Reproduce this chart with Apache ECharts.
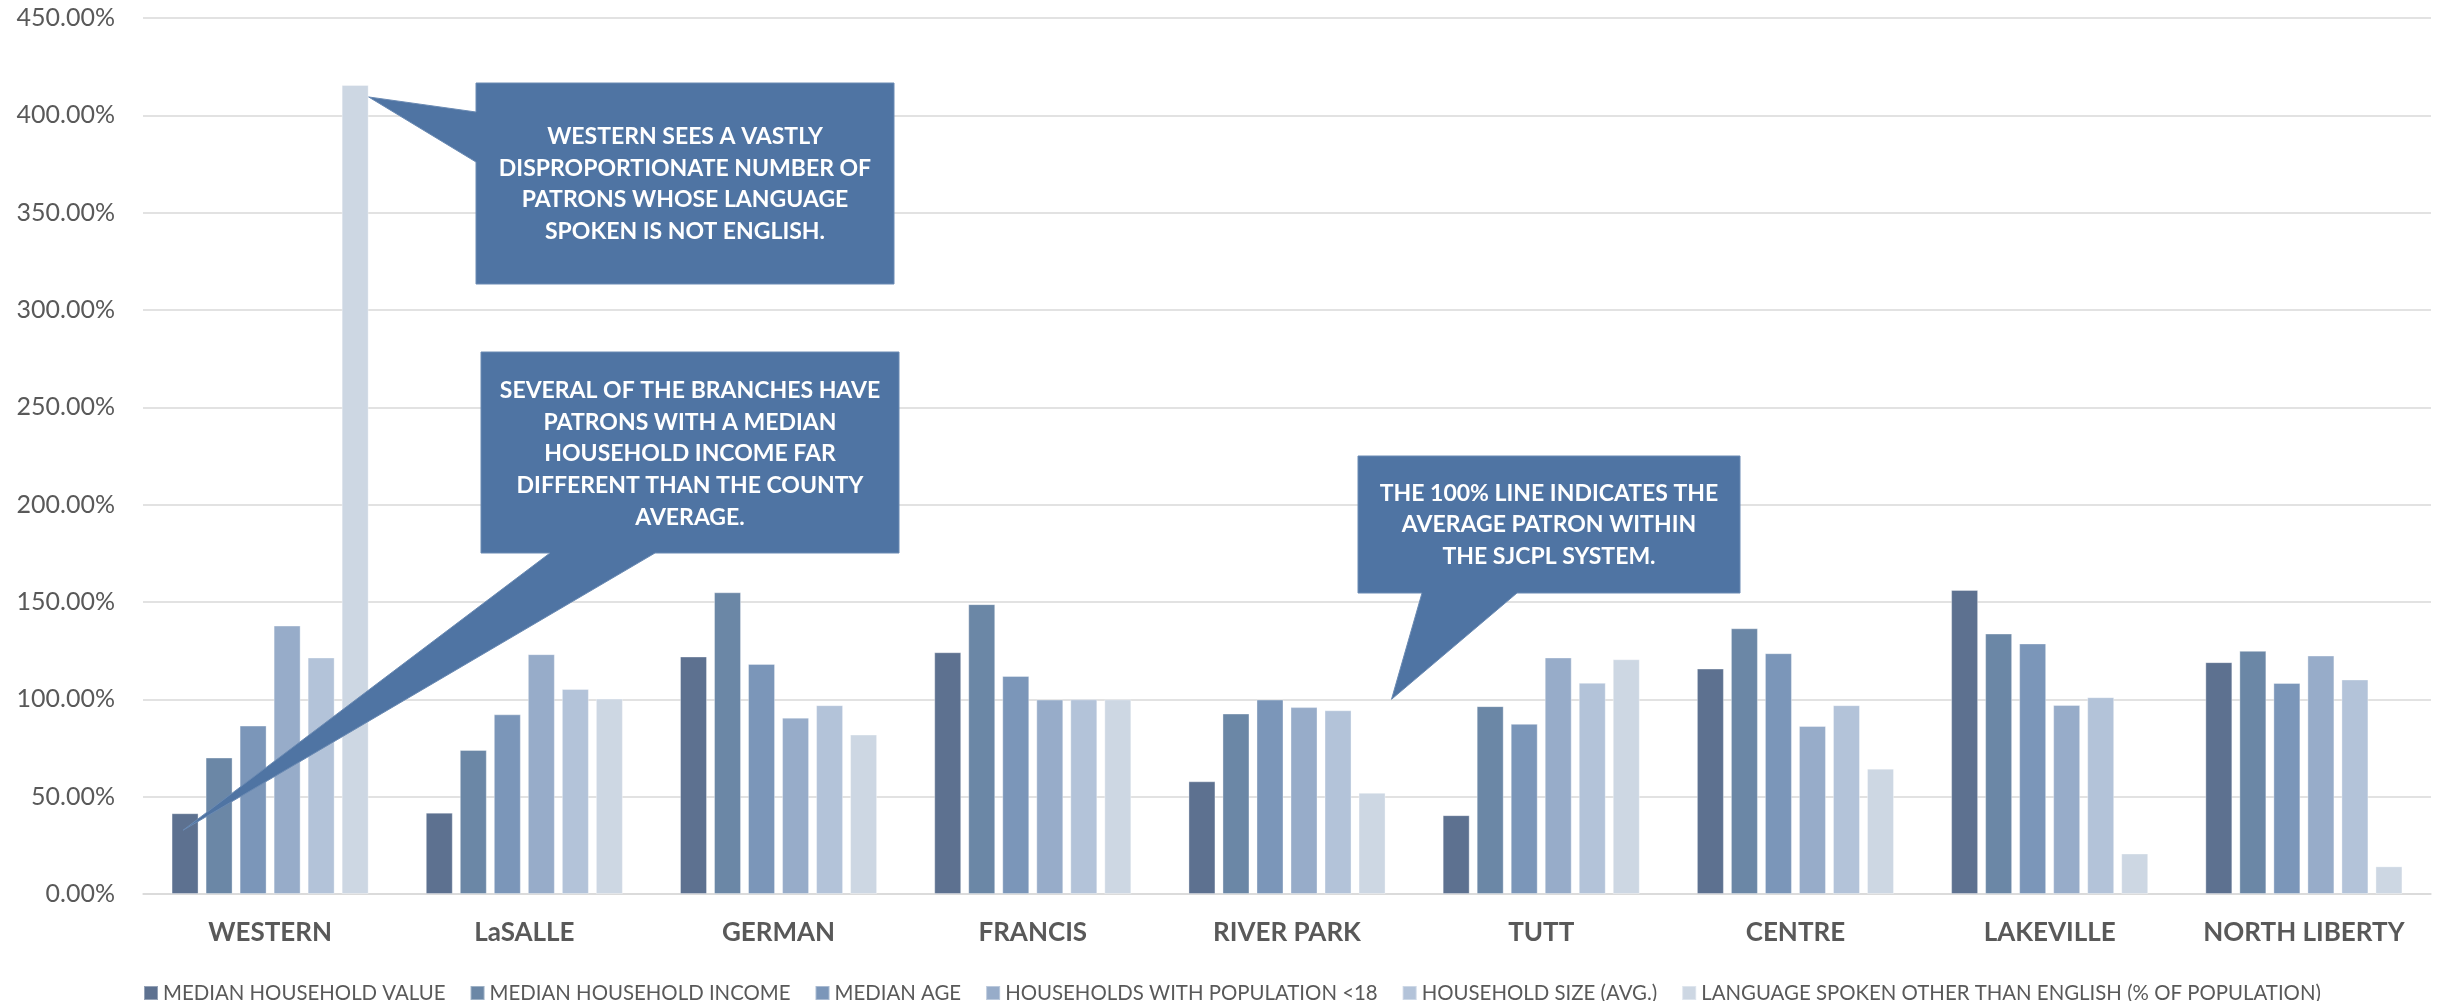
<!DOCTYPE html>
<html>
<head>
<meta charset="utf-8">
<title>SJCPL Branch Patron Profile</title>
<script src="https://cdn.jsdelivr.net/npm/echarts@6/dist/echarts.min.js"></script>
<style>
  html, body { margin: 0; padding: 0; background: #ffffff; }
  #chart { width: 2441px; height: 1001px; }
</style>
</head>
<body>
<div id="chart"></div>
<script>
// Branch profiles relative to the SJCPL system average (100% = average patron)
const branches = ['WESTERN', 'LaSALLE', 'GERMAN', 'FRANCIS', 'RIVER PARK', 'TUTT', 'CENTRE', 'LAKEVILLE', 'NORTH LIBERTY'];

const seriesNames = [
  'MEDIAN HOUSEHOLD VALUE',
  'MEDIAN HOUSEHOLD INCOME',
  'MEDIAN AGE',
  'HOUSEHOLDS WITH POPULATION <18',
  'HOUSEHOLD SIZE (AVG.)',
  'LANGUAGE SPOKEN OTHER THAN ENGLISH (% OF POPULATION)'
];

const medianHouseholdValue  = [41.5, 41.8, 122.0, 124.2, 57.9, 40.5, 115.8, 156.2, 119.1];
const medianHouseholdIncome = [70.1, 74.0, 155.0, 148.9, 92.7, 96.5, 136.5, 133.8, 124.9];
const medianAge             = [86.5, 92.3, 118.2, 112.0, 99.9, 87.4, 123.7, 128.7, 108.4];
const householdsUnder18     = [137.9, 123.2, 90.6, 99.9, 96.0, 121.5, 86.3, 97.1, 122.5];
const householdSizeAvg      = [121.5, 105.3, 97.0, 100.0, 94.4, 108.5, 97.0, 101.1, 110.2];
const languageNotEnglish    = [415.6, 100.4, 81.9, 100.0, 52.0, 120.6, 64.4, 20.8, 14.2];

// Value axis ticks (percent)
const yMin = 0, yMax = 450, yStep = 50;

const seriesColors = ['#5d7190', '#6b87a6', '#7b96b9', '#97acc9', '#b3c3d9', '#cdd7e3'];
const seriesData = [medianHouseholdValue, medianHouseholdIncome, medianAge, householdsUnder18, householdSizeAvg, languageNotEnglish];

const chart = echarts.init(document.getElementById('chart'), null, { renderer: 'canvas' });

const textGrey = '#595959';
const gridGrey = '#d9d9d9';

const option = {
  animation: false,
  backgroundColor: '#ffffff',
  grid: { left: 143, right: 10, top: 18, bottom: 107, containLabel: false },
  legend: {
    left: 138,
    top: 978,
    icon: 'rect',
    itemWidth: 14,
    itemHeight: 14,
    itemGap: 24,
    textStyle: { fontFamily: 'Lato', fontSize: 20.4, color: textGrey, lineHeight: 20 },
    data: seriesNames
  },
  xAxis: {
    type: 'category',
    data: branches,
    axisLine: { lineStyle: { color: gridGrey, width: 1.5 } },
    axisTick: { show: false },
    axisLabel: {
      margin: 26,
      fontFamily: 'Lato',
      fontWeight: 'bold',
      fontSize: 26,
      lineHeight: 26,
      color: textGrey,
      interval: 0
    }
  },
  yAxis: {
    type: 'value',
    min: yMin,
    max: yMax,
    interval: yStep,
    axisLine: { show: false },
    axisTick: { show: false },
    splitLine: { lineStyle: { color: gridGrey, width: 1.5 } },
    axisLabel: {
      margin: 28,
      fontFamily: 'Lato',
      fontSize: 25,
      color: textGrey,
      formatter: v => v.toFixed(2) + '%'
    }
  },
  series: seriesNames.map((name, i) => ({
    name,
    type: 'bar',
    data: seriesData[i],
    barWidth: 27,
    barGap: '26%',
    itemStyle: { color: seriesColors[i], borderColor: 'rgba(255,255,255,0.35)', borderWidth: 1 },
    z: 2
  }))
};

chart.setOption(option);

// Callout annotations, with pointer tips anchored to the data through the axes
const calloutFill = '#4f74a3';
const calloutFont = 'bold 23px Lato';
const px = (catIdx, val) => chart.convertToPixel({ xAxisIndex: 0, yAxisIndex: 0 }, [catIdx, val]);

const halfGroup = (6 * 27 + 5 * 7) / 2;

// 1) Western: language spoken other than English
const tip1 = px(0, languageNotEnglish[0]);
tip1[0] += halfGroup; tip1[1] += 12;
// 2) Western: median household income far from county average
const tip2 = px(0, medianHouseholdValue[0]);
tip2[0] -= 87; tip2[1] += 17;
// 3) 100% reference line
const tip3 = px(4, 100);
tip3[0] += halfGroup + 6;

function calloutText(lines, cx, cy) {
  return {
    type: 'text',
    z: 11,
    style: {
      text: lines.join('\n'),
      x: cx, y: cy,
      align: 'center', verticalAlign: 'middle',
      font: calloutFont, lineHeight: 31.7,
      fill: '#ffffff'
    }
  };
}

chart.setOption({
  graphic: [
    {
      type: 'polygon', z: 10,
      shape: { points: [[476, 83], [894, 83], [894, 284], [476, 284], [476, 162], tip1, [476, 112]] },
      style: { fill: calloutFill, stroke: '#6a8ab3', lineWidth: 1 }
    },
    calloutText(['WESTERN SEES A VASTLY', 'DISPROPORTIONATE NUMBER OF', 'PATRONS WHOSE LANGUAGE', 'SPOKEN IS NOT ENGLISH.'], 685, 184),
    {
      type: 'polygon', z: 10,
      shape: { points: [[481, 352], [899, 352], [899, 553], [655, 553], tip2, [550, 553], [481, 553]] },
      style: { fill: calloutFill, stroke: '#6a8ab3', lineWidth: 1 }
    },
    calloutText(['SEVERAL OF THE BRANCHES HAVE', 'PATRONS WITH A MEDIAN', 'HOUSEHOLD INCOME FAR', 'DIFFERENT THAN THE COUNTY', 'AVERAGE.'], 690, 454),
    {
      type: 'polygon', z: 10,
      shape: { points: [[1358, 456], [1740, 456], [1740, 593], [1517, 593], tip3, [1422, 593], [1358, 593]] },
      style: { fill: calloutFill, stroke: '#6a8ab3', lineWidth: 1 }
    },
    calloutText(['THE 100% LINE INDICATES THE', 'AVERAGE PATRON WITHIN', 'THE SJCPL SYSTEM.'], 1549, 525)
  ]
});
</script>
</body>
</html>
